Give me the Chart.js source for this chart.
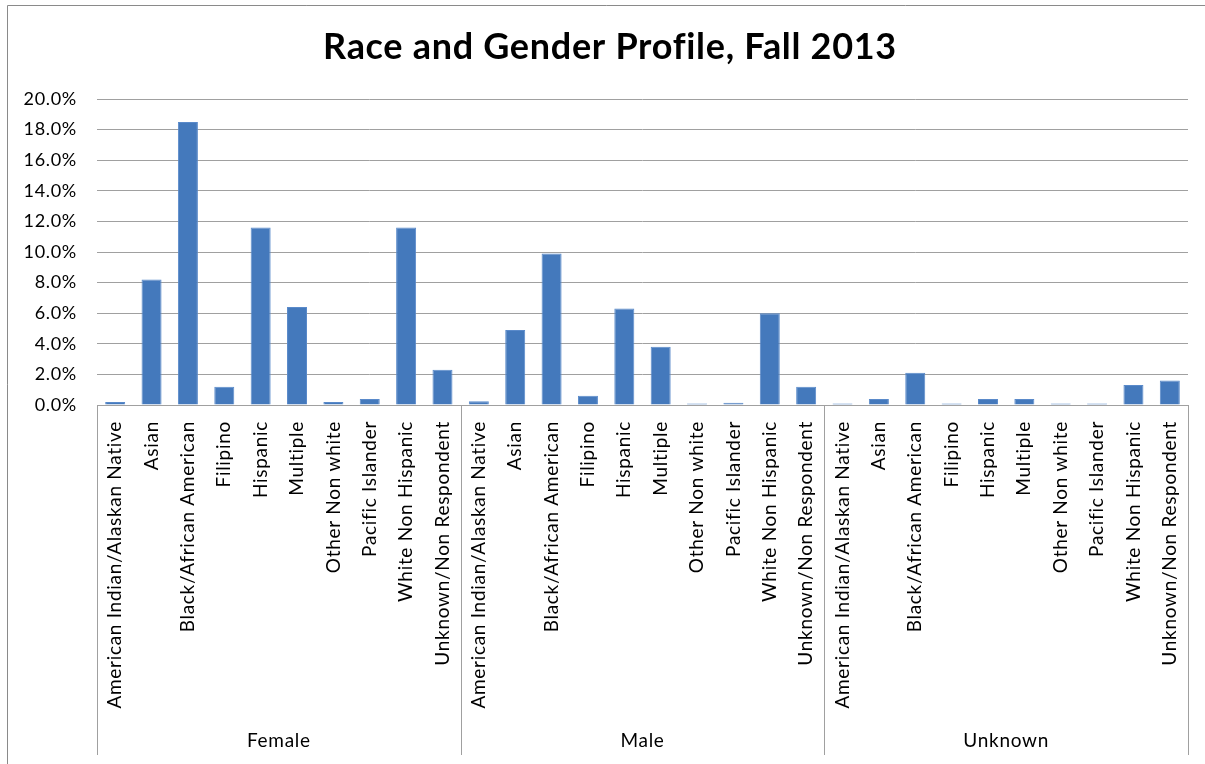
<html lang="en">
<head>
  <meta charset="utf-8">
  <title>Race and Gender Profile, Fall 2013</title>
  <style>
    body { margin: 0; background: #fff; overflow: hidden; }
  </style>
</head>

<body>
  <canvas id="myChart" width="1205" height="764"></canvas>
  <script src="https://cdn.jsdelivr.net/npm/chart.js"></script>
  <script>
    const chartTitle = 'Race and Gender Profile, Fall 2013'
    const genders = ['Female', 'Male', 'Unknown']
    const races = [
      'American Indian/Alaskan Native', 'Asian', 'Black/African American', 'Filipino',
      'Hispanic', 'Multiple', 'Other Non white', 'Pacific Islander',
      'White Non Hispanic', 'Unknown/Non Respondent'
    ]
    // percent of students
    const femaleValues = [0.2, 8.2, 18.5, 1.2, 11.6, 6.4, 0.2, 0.4, 11.6, 2.3]
    const maleValues = [0.25, 4.9, 9.9, 0.6, 6.3, 3.8, 0.1, 0.15, 6.0, 1.2]
    const unknownValues = [0.1, 0.4, 2.1, 0.1, 0.4, 0.4, 0.1, 0.1, 1.3, 1.6]
    const yTicks = [0, 2, 4, 6, 8, 10, 12, 14, 16, 18, 20]

    const FONT = 'Lato'
    const GRID = '#a0a0a0'
    const SPACING = '0.7px'

    // the old chart font looks a bit spaced out; canvas state is reset on resize so set it each time
    const spacing = {
      id: 'spacing',
      beforeUpdate(chart) { chart.ctx.letterSpacing = SPACING },
      beforeDraw(chart) { chart.ctx.letterSpacing = SPACING }
    }

    // outer frame (only top and left edges are inside the picture) and the title,
    // which sits a bit right of the canvas centre in the original
    const frame = {
      id: 'frame',
      beforeDraw(chart) {
        const ctx = chart.ctx
        ctx.save()
        ctx.strokeStyle = '#8a8a8a'
        ctx.lineWidth = 1
        ctx.beginPath()
        ctx.moveTo(7.5, 764)
        ctx.lineTo(7.5, 5.5)
        ctx.lineTo(1205, 5.5)
        ctx.stroke()
        ctx.fillStyle = '#000'
        ctx.font = 'bold 36px ' + FONT
        ctx.textAlign = 'center'
        ctx.textBaseline = 'middle'
        ctx.fillText(chartTitle, 610, 47)
        ctx.restore()
      }
    }

    // gender group separators and names under the race labels
    const groupAxis = {
      id: 'groupAxis',
      afterDraw(chart) {
        const { ctx, chartArea, scales: { x } } = chart
        const half = (x.getPixelForValue(1) - x.getPixelForValue(0)) / 2
        const bottom = 755
        ctx.save()
        ctx.strokeStyle = GRID
        ctx.lineWidth = 1
        ctx.fillStyle = '#000'
        ctx.font = '19px ' + FONT
        ctx.textAlign = 'center'
        ctx.textBaseline = 'middle'
        genders.forEach((g, i) => {
          const left = x.getPixelForValue(i * races.length) - half
          const right = x.getPixelForValue(i * races.length + races.length - 1) + half
          ;[left, right].forEach(px => {
            const xx = Math.round(px) + 0.5
            ctx.beginPath()
            ctx.moveTo(xx, chartArea.bottom)
            ctx.lineTo(xx, bottom)
            ctx.stroke()
          })
          ctx.fillText(g, (left + right) / 2, 741)
        })
        ctx.restore()
      }
    }

    function renderChart() {
      const ctx = document.getElementById('myChart')
      const labels = genders.flatMap(() => races)
      const values = [...femaleValues, ...maleValues, ...unknownValues]

      new Chart(ctx, {
        type: 'bar',
        data: {
          labels: labels,
          datasets: [{
            data: values,
            backgroundColor: '#4479BC',
            borderColor: '#5A8ACA',
            borderWidth: { top: 1, left: 1, right: 1, bottom: 0 },
            barPercentage: 0.55,
            categoryPercentage: 1.0
          }]
        },
        options: {
          responsive: false,
          animation: false,
          layout: { padding: { left: 0, right: 17, top: 99, bottom: 0 } },
          plugins: {
            legend: { display: false },
            tooltip: { enabled: false },
            title: { display: false }
          },
          scales: {
            x: {
              grid: { display: false },
              border: { display: true, color: GRID, width: 1 },
              ticks: {
                autoSkip: false,
                maxRotation: 90,
                minRotation: 90,
                padding: 8,
                color: '#000',
                font: { family: FONT, size: 19 }
              },
              afterFit(scale) { scale.height = 359 }
            },
            y: {
              min: 0,
              max: 20,
              afterBuildTicks(scale) { scale.ticks = yTicks.map(v => ({ value: v })) },
              grid: { color: GRID, drawTicks: false },
              border: { display: false },
              ticks: {
                padding: 20,
                color: '#000',
                font: { family: FONT, size: 18 },
                callback: v => v.toFixed(1) + '%'
              },
              afterFit(scale) { scale.width = 97 }
            }
          }
        },
        plugins: [spacing, frame, groupAxis]
      })
    }
    window.onload = renderChart
  </script>
</body>

</html>
